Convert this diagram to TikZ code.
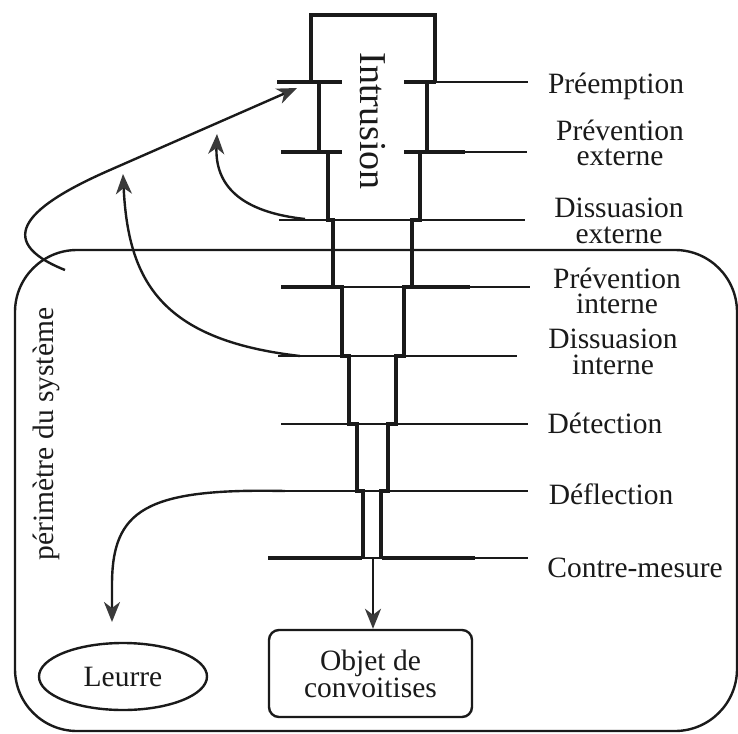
\documentclass[tikz,border=0pt]{standalone}
\usepackage{fontspec}
\setmainfont{Liberation Serif}
\usetikzlibrary{arrows.meta,shapes.geometric}
\definecolor{ink}{HTML}{1A1A1A}
\definecolor{tipgray}{HTML}{3A3A3A}

\begin{document}
\begin{tikzpicture}[x=1pt,y=-1pt,
  wall/.style={line width=4.2pt, ink, line join=miter},
  levelline/.style={line width=2.6pt, ink},
  ledge/.style={line width=3.8pt, ink},
  flow/.style={line width=2.4pt, ink,
    -{Stealth[length=20pt,width=16pt,inset=6pt,fill=tipgray,color=tipgray]}},
  lbl/.style={font=\fontsize{29.5}{25.5}\selectfont, align=center, inner sep=0pt, text=ink},
  boundary/.style={line width=2.4pt, ink}]

\useasboundingbox (0,0) rectangle (738,733);

% system perimeter
\draw[boundary, rounded corners=62pt] (15,250) rectangle (737,731);
\node[lbl, rotate=90] (perim) at (46,434) {périmètre du système};

% protection levels (horizontal lines)
\draw[levelline] (277,82) -- (342,82);
\draw[levelline] (404,82) -- (528,82);
\draw[levelline] (281,152) -- (342,152);
\draw[levelline] (404,152) -- (527,152);
\draw[levelline] (279,220) -- (525,220);
\draw[levelline] (281,287) -- (530,287);
\draw[levelline] (278,356) -- (517,356);
\draw[levelline] (281,424) -- (528,424);
\draw[levelline] (278,491) -- (528,491);
\draw[levelline] (268,558) -- (528,558);

% heavier ledges
\draw[ledge] (277,82) -- (342,82);
\draw[ledge] (404,82) -- (436,82);
\draw[ledge] (281,152) -- (342,152);
\draw[ledge] (404,152) -- (465,152);
\draw[ledge] (281,287) -- (342,287);
\draw[ledge] (404,287) -- (470,287);
\draw[ledge] (268,558) -- (362,558);
\draw[ledge] (382,558) -- (475,558);

% narrowing channel
\draw[wall] (311,82) -- (311,15) -- (435,15) -- (435,82);
\draw[wall] (319,82) -- (319,152) -- (328,152) -- (328,220) -- (333,220)
  -- (333,287) -- (342,287) -- (342,356) -- (349,356) -- (349,424)
  -- (357,424) -- (357,491) -- (363,491) -- (363,558);
\draw[wall] (427,82) -- (427,152) -- (420,152) -- (420,220) -- (412,220)
  -- (412,287) -- (404,287) -- (404,356) -- (396,356) -- (396,424)
  -- (388,424) -- (388,491) -- (381,491) -- (381,558);

\node[font=\fontsize{38}{38}\selectfont, rotate=-90, inner sep=0pt, text=ink]
  (intr) at (373,121) {Intrusion};

% level labels
\node[lbl] (l1) at (616,86) {Préemption};
\node[lbl] (l2) at (620,143) {Prévention\\externe};
\node[lbl] (l3) at (619,221) {Dissuasion\\externe};
\node[lbl] (l4) at (617,291) {Prévention\\interne};
\node[lbl] (l5) at (613,352) {Dissuasion\\interne};
\node[lbl] (l6) at (605,423) {Détection};
\node[lbl] (l7) at (611,494) {Déflection};
\node[lbl] (l8) at (635,568) {Contre-mesure};

% targets
\node[lbl, draw=ink, line width=2.4pt, rounded corners=10pt,
  minimum width=203pt, minimum height=87pt] (obj) at (370.5,673.5)
  {Objet de\\convoitises};
\node[lbl, draw=ink, line width=2.4pt, ellipse,
  minimum width=168pt, minimum height=67pt] (leurre) at (123,676.5) {Leurre};

% paths of the intruder
\coordinate (preS) at (65,270);
\coordinate (preT) at (297,88);
\draw[flow] (preS) .. controls (-10,240) and (30,205) .. (110,170) -- (preT);

\coordinate (dexS) at (305,219);
\coordinate (dexT) at (217,134);
\draw[flow] (dexS) .. controls (240,212) and (215,185) .. (dexT);

\coordinate (dinS) at (300,356);
\coordinate (dinT) at (123,174);
\draw[flow] (dinS) .. controls (160,340) and (128,280) .. (dinT);

\coordinate (defS) at (285,491);
\coordinate (defT) at (112,622);
\draw[flow] (defS) .. controls (145,488) and (112,510) .. (112,585) -- (defT);

\coordinate (cmS) at (373,558);
\draw[flow] (cmS) -- (obj.north -| cmS);
\end{tikzpicture}
\end{document}
